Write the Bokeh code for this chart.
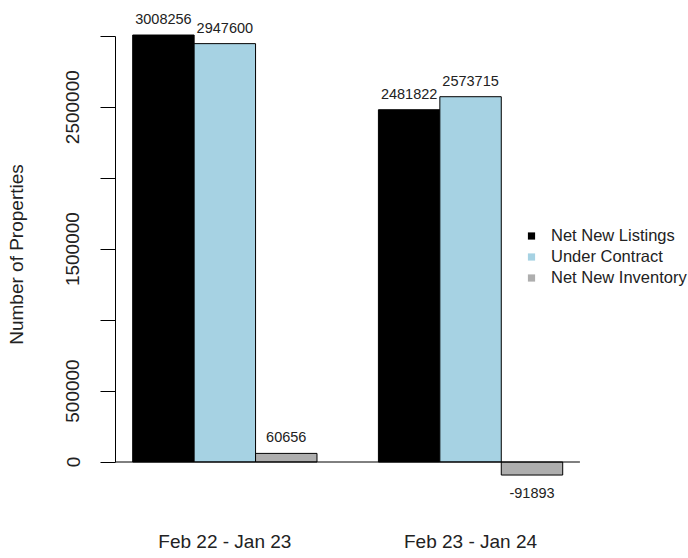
from bokeh.plotting import figure
from bokeh.models import Range1d, FixedTicker, Legend, LegendItem, ColumnDataSource
from bokeh.embed import file_html
from bokeh.resources import INLINE
from bokeh.core.properties import value

# ---- data ----
periods = ["Feb 22 - Jan 23", "Feb 23 - Jan 24"]
series_names = ["Net New Listings", "Under Contract", "Net New Inventory"]
net_new_listings = [3008256, 2481822]
under_contract = [2947600, 2573715]
net_new_inventory = [60656, -91893]
series_values = [net_new_listings, under_contract, net_new_inventory]
series_colors = ["#000000", "#A6D2E3", "#AEAEAE"]
y_ticks = [0, 500000, 1000000, 1500000, 2000000, 2500000, 3000000]
y_tick_labels = ["0", "500000", "", "1500000", "", "2500000", ""]

FONT = "Liberation Sans"
TXT = "#222222"

# ---- bar geometry (R barplot, beside=TRUE, space=c(0,1)) ----
ns = len(series_names)
xs, tops, cols, labels = [], [], [], []
for g in range(len(periods)):
    for s in range(ns):
        xs.append(1 + g * (ns + 1) + s + 0.5)
        tops.append(series_values[s][g])
        cols.append(series_colors[s])
        labels.append(str(series_values[s][g]))
group_centers = [1 + g * (ns + 1) + ns / 2 for g in range(len(periods))]
bar_left = min(xs) - 0.5
bar_right = max(xs) + 0.5
ext = 0.04 * (bar_right - bar_left)
xlim = (bar_left - ext, bar_right + ext)

# ---- layout ----
W, H = 688, 558
FL, FB = 115, 508            # frame left / bottom in canvas px
px_per_x = 61.43
y0_px, y3m_px = 461.5, 35.7  # canvas px of 0 and 3,000,000
py_per_y = (y0_px - y3m_px) / 3000000

x_start = xlim[0]
x_end = x_start + (W - FL) / px_per_x
y_end = 3000000 + y3m_px / py_per_y
y_start = -(FB - y0_px) / py_per_y

p = figure(width=W, height=H, output_backend="svg", toolbar_location=None,
           x_range=Range1d(x_start, x_end), y_range=Range1d(y_start, y_end),
           min_border_left=FL, min_border_right=0, min_border_top=0,
           min_border_bottom=H - FB)
p.outline_line_color = None
p.grid.visible = False
p.background_fill_color = "white"
p.border_fill_color = "white"

src = ColumnDataSource(dict(x=xs, top=tops, color=cols, label=labels))
p.vbar(x="x", width=1.0, top="top", bottom=0, fill_color="color",
       line_color="black", line_width=1, source=src)

# zero line across plot region
p.segment(x0=[xlim[0]], x1=[xlim[1]], y0=[0], y1=[0], line_color="black", line_width=1)

# value labels
pos = [i for i, t in enumerate(tops) if t >= 0]
neg = [i for i, t in enumerate(tops) if t < 0]
p.text(x=[xs[i] for i in pos], y=[tops[i] for i in pos], text=[labels[i] for i in pos],
       text_align="center", text_baseline="middle", y_offset=-16,
       text_font=value(FONT), text_font_size="14.5px", text_color=TXT)
p.text(x=[xs[i] for i in neg], y=[tops[i] for i in neg], text=[labels[i] for i in neg],
       text_align="center", text_baseline="middle", y_offset=18,
       text_font=value(FONT), text_font_size="14.5px", text_color=TXT)

# y axis
ya = p.yaxis[0]
ya.ticker = FixedTicker(ticks=y_ticks)
ya.major_label_overrides = {t: l for t, l in zip(y_ticks, y_tick_labels)}
ya.bounds = (min(y_ticks), max(y_ticks))
ya.major_label_orientation = "vertical"
ya.major_tick_in = 0
ya.major_tick_out = 15
ya.minor_tick_line_color = None
ya.major_label_standoff = 21
ya.major_label_text_font = FONT
ya.major_label_text_font_size = "19px"
ya.major_label_text_color = TXT
ya.axis_line_color = "black"
ya.major_tick_line_color = "black"
ya.axis_label = "Number of Properties"
ya.axis_label_text_font = FONT
ya.axis_label_text_font_size = "19px"
ya.axis_label_text_font_style = "normal"
ya.axis_label_text_color = TXT
ya.axis_label_standoff = 37

# x axis (category labels)
xa = p.xaxis[0]
xa.ticker = FixedTicker(ticks=group_centers)
xa.major_label_overrides = {c: n for c, n in zip(group_centers, periods)}
xa.axis_line_color = None
xa.major_tick_line_color = None
xa.minor_tick_line_color = None
xa.major_label_standoff = 16
xa.major_label_text_font = FONT
xa.major_label_text_font_size = "19px"
xa.major_label_text_color = TXT

# legend with borderless squares (legend-only renderers, point not drawn)
items = []
for name, c in zip(series_names, series_colors):
    r = p.scatter(x=[float("nan")], y=[float("nan")], marker="square",
                  fill_color=c, line_color=None)
    items.append(LegendItem(label=name, renderers=[r]))
legend = Legend(items=items, location=(407, 220), border_line_color=None,
                background_fill_alpha=0, padding=0, margin=0, spacing=0,
                glyph_width=18, glyph_height=21, label_height=21, label_standoff=11,
                label_text_font=FONT, label_text_font_size="16.5px", label_text_color=TXT)
p.add_layout(legend)

open("out.html", "w").write(file_html(p, INLINE))
